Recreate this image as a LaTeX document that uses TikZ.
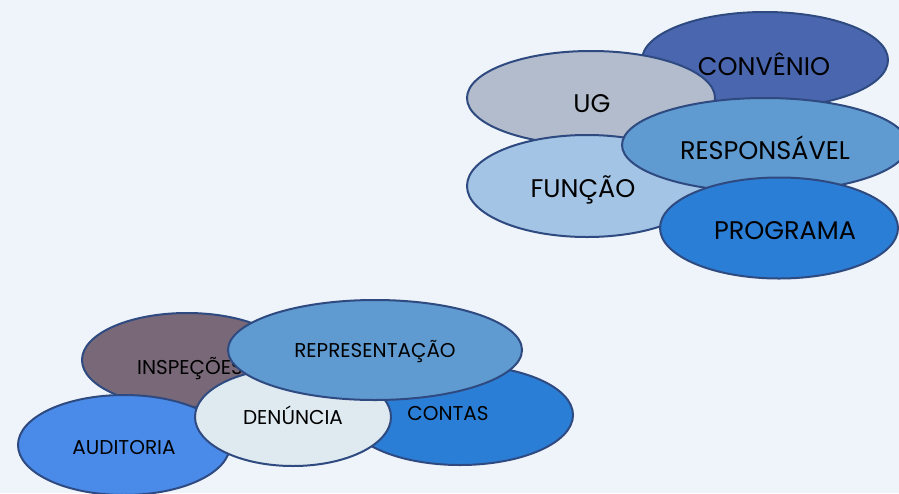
\documentclass[tikz,border=0pt]{standalone}
\usepackage{fontspec}
\setmainfont{Poppins}
\usetikzlibrary{shapes.geometric}

\definecolor{bgcol}{HTML}{EEF4FA}
\definecolor{edgecol}{HTML}{2F4A80}
\definecolor{convcol}{HTML}{4A66AE}
\definecolor{ugcol}{HTML}{B2BCCC}
\definecolor{funccol}{HTML}{A3C4E4}
\definecolor{respcol}{HTML}{5F9BD0}
\definecolor{progcol}{HTML}{2A7ED6}
\definecolor{inspcol}{HTML}{786878}
\definecolor{audcol}{HTML}{4A8BEA}
\definecolor{dencol}{HTML}{DEEAF0}

\tikzset{
  blob/.style={ellipse, draw=edgecol, line width=2pt, inner sep=0pt},
  bigtext/.style={anchor=base, inner sep=0pt, font=\fontsize{25.5}{25.5}\selectfont},
  smalltext/.style={anchor=base, inner sep=0pt, font=\fontsize{20}{20}\selectfont}
}

\begin{document}
\begin{tikzpicture}[x=1pt,y=-1pt]
    \useasboundingbox[fill=bgcol] (0,0) rectangle (899,493);
    % upper group
    \node[blob, fill=convcol, minimum width=246, minimum height=96] (conv) at (765,60) {};
    \node[bigtext] (convtext) at (764,75) {CONVÊNIO};
    \node[blob, fill=ugcol, minimum width=248, minimum height=94] (ug) at (591,98) {};
    \node[bigtext] (ugtext) at (592,112) {UG};
    \node[blob, fill=funccol, minimum width=240, minimum height=102] (func) at (587,186) {};
    \node[bigtext] (functext) at (583,197) {FUNÇÃO};
    \node[blob, fill=respcol, minimum width=286, minimum height=94] (resp) at (765,145) {};
    \node[bigtext] (resptext) at (765,159) {RESPONSÁVEL};
    \node[blob, fill=progcol, minimum width=238, minimum height=101] (prog) at (779,228) {};
    \node[bigtext] (progtext) at (785,239) {PROGRAMA};
    % lower group
    \node[blob, fill=inspcol, minimum width=210, minimum height=94] (insp) at (187,360) {};
    \node[smalltext] (insptext) at (190,374) {INSPEÇÕES};
    \node[blob, fill=progcol, minimum width=226, minimum height=100] (cont) at (460,415) {};
    \node[smalltext] (conttext) at (448,420) {CONTAS};
    \node[blob, fill=audcol, minimum width=212, minimum height=100] (aud) at (124,445) {};
    \node[smalltext] (audtext) at (124,454) {AUDITORIA};
    \node[blob, fill=dencol, minimum width=196, minimum height=98] (den) at (293,417) {};
    \node[smalltext] (dentext) at (293,424) {DENÚNCIA};
    \node[blob, fill=respcol, minimum width=294, minimum height=100] (repr) at (375,350) {};
    \node[smalltext] (reprtext) at (375,357) {REPRESENTAÇÃO};
\end{tikzpicture}
\end{document}
